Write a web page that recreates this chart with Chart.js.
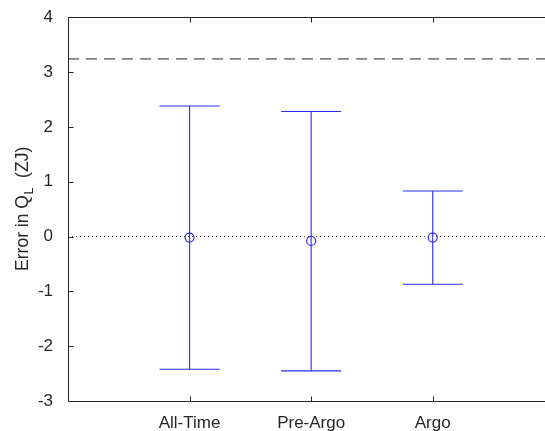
<!DOCTYPE html>
<html>
<head>
<meta charset="utf-8">
<script src="https://cdn.jsdelivr.net/npm/chart.js@4/dist/chart.umd.min.js"></script>
<style>
  html, body { margin: 0; padding: 0; background: #fff; overflow: hidden; }
  #wrap { width: 560px; height: 431px; }
</style>
</head>
<body>
<div id="wrap"><canvas id="c" width="560" height="431"></canvas></div>
<script>
// ---- data ----
const categories = ['All-Time', 'Pre-Argo', 'Argo'];
const xPositions = [1, 2, 3];
const centers = [-0.02, -0.08, -0.02];
const upper = [2.38, 2.28, 0.83];
const lower = [-2.42, -2.45, -0.87];
const referenceLevel = [3.24];
const zeroLevel = [0];
const yTicks = [-3, -2, -1, 0, 1, 2, 3, 4];

// ---- styles ----
const BLUE = '#2a2aff';
const TXT = '#262626';
const CAP = 0.247;
const FONT = '"Liberation Sans", Arial, Helvetica, sans-serif';

const datasets = [];
datasets.push({
  data: [{x: 0, y: zeroLevel[0]}, {x: 4, y: zeroLevel[0]}],
  showLine: true, borderColor: '#444', borderWidth: 1, borderDash: [1, 3],
  pointRadius: 0
});
datasets.push({
  data: [{x: 0, y: referenceLevel[0]}, {x: 4, y: referenceLevel[0]}],
  showLine: true, borderColor: '#808080', borderWidth: 1.6, borderDash: [11, 7],
  pointRadius: 0
});
xPositions.forEach((x, i) => {
  datasets.push({
    data: [{x: x, y: lower[i]}, {x: x, y: upper[i]}],
    showLine: true, borderColor: BLUE, borderWidth: 1.1, pointRadius: 0
  });
  datasets.push({
    data: [{x: x - CAP, y: upper[i]}, {x: x + CAP, y: upper[i]}],
    showLine: true, borderColor: BLUE, borderWidth: 1.1, pointRadius: 0
  });
  datasets.push({
    data: [{x: x - CAP, y: lower[i]}, {x: x + CAP, y: lower[i]}],
    showLine: true, borderColor: BLUE, borderWidth: 1.1, pointRadius: 0
  });
});
datasets.push({
  data: xPositions.map((x, i) => ({x: x, y: centers[i]})),
  showLine: false, pointStyle: 'circle', pointRadius: 4.5,
  pointBorderColor: BLUE, pointBackgroundColor: '#ffffff', pointBorderWidth: 1.2
});

const boxPlugin = {
  id: 'box',
  afterDraw(chart) {
    const ctx = chart.ctx, a = chart.chartArea;
    const ys = chart.scales.y, xs = chart.scales.x;
    ctx.save();
    ctx.strokeStyle = TXT;
    ctx.lineWidth = 1;
    ctx.beginPath();
    const L = Math.round(a.left) + 0.5, R = Math.round(a.right) - 0.5;
    const T = Math.round(a.top) + 0.5, B = Math.round(a.bottom) + 0.5;
    ctx.moveTo(L, B); ctx.lineTo(L, T); ctx.lineTo(R, T); ctx.lineTo(R, B); ctx.lineTo(L, B);
    yTicks.forEach(v => {
      const py = Math.round(ys.getPixelForValue(v)) + 0.5;
      ctx.moveTo(L, py); ctx.lineTo(L + 5, py);
      ctx.moveTo(R, py); ctx.lineTo(R - 5, py);
    });
    xPositions.forEach(v => {
      const px = Math.round(xs.getPixelForValue(v)) + 0.5;
      ctx.moveTo(px, B); ctx.lineTo(px, B - 5);
      ctx.moveTo(px, T); ctx.lineTo(px, T + 5);
    });
    ctx.stroke();

    const cy = (a.top + a.bottom) / 2;
    ctx.translate(28, cy);
    ctx.rotate(-Math.PI / 2);
    ctx.fillStyle = TXT;
    ctx.textBaseline = 'alphabetic';
    const main = 'Error in Q', sub = 'L', tail = '  (ZJ)';
    const fMain = '17.5px ' + FONT, fSub = '12.5px ' + FONT;
    ctx.font = fMain;
    const w1 = ctx.measureText(main).width;
    const w3 = ctx.measureText(tail).width;
    ctx.font = fSub;
    const w2 = ctx.measureText(sub).width;
    let x0 = -(w1 + w2 + w3) / 2;
    ctx.font = fMain; ctx.fillText(main, x0, 0);
    ctx.font = fSub; ctx.fillText(sub, x0 + w1 + 0.5, 5);
    ctx.font = fMain; ctx.fillText(tail, x0 + w1 + w2 + 0.5, 0);
    ctx.restore();
  }
};

new Chart(document.getElementById('c'), {
  type: 'scatter',
  data: { datasets },
  options: {
    responsive: false,
    animation: false,
    layout: { padding: { top: 17, right: 0, left: 1.5, bottom: 0 } },
    plugins: { legend: { display: false }, tooltip: { enabled: false } },
    scales: {
      x: {
        type: 'linear', min: 0, max: 4,
        grid: { display: false },
        border: { display: false },
        afterBuildTicks(scale) { scale.ticks = xPositions.map(v => ({ value: v })); },
        afterFit(scale) { scale.height = 30; },
        ticks: {
          autoSkip: false, maxRotation: 0, padding: 4,
          color: TXT, font: { family: FONT, size: 17 },
          callback(v) { const i = xPositions.indexOf(v); return i >= 0 ? categories[i] : ''; }
        }
      },
      y: {
        type: 'linear', min: -3, max: 4,
        grid: { display: false },
        border: { display: false },
        afterBuildTicks(scale) { scale.ticks = yTicks.map(v => ({ value: v })); },
        afterFit(scale) { scale.width = 66.5; },
        ticks: {
          padding: 7, color: TXT, font: { family: FONT, size: 17 },
          callback(v) { return String(v); }
        }
      }
    }
  },
  plugins: [boxPlugin]
});
</script>
</body>
</html>
